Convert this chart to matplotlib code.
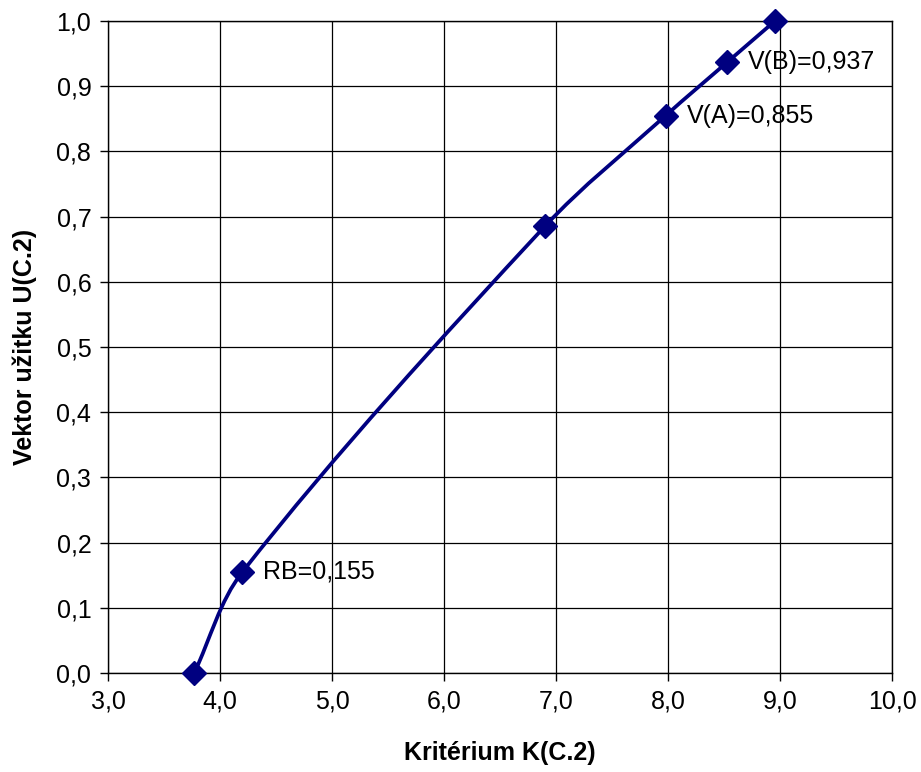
import math
import matplotlib
matplotlib.use("Agg")
import matplotlib.pyplot as plt
from matplotlib.path import Path
from matplotlib.patches import PathPatch
from matplotlib.ticker import FuncFormatter, MultipleLocator

plt.rcParams['font.family'] = ['Liberation Sans', 'DejaVu Sans']

# Data
k_values = [3.77, 4.20, 6.90, 7.98, 8.53, 8.955]
u_values = [0.0, 0.155, 0.685, 0.855, 0.937, 1.0]
labels = {1: "RB=0,155", 3: "V(A)=0,855", 4: "V(B)=0,937"}
x_label = "Kritérium K(C.2)"
y_label = "Vektor užitku U(C.2)"

color = "#000080"
FS = 18

fig = plt.figure(figsize=(9.21, 7.72), dpi=100)
ax = fig.add_axes([108/921, (772-673)/772, (892-108)/921, (673-21)/772])
ax.set_xlim(3.0, 10.0)
ax.set_ylim(0.0, 1.0)

# Smoothed line (Excel-like Bezier smoothing) through the data points,
# with tangent weights based on on-screen segment lengths
sx = (892 - 108) / 7.0
sy = (673 - 21) / 1.0
pts = list(zip(k_values, u_values))
n = len(pts)


def dist(a, b):
    return math.hypot((a[0] - b[0]) * sx, (a[1] - b[1]) * sy)


verts = [pts[0]]
codes = [Path.MOVETO]
for i in range(n - 1):
    p1 = pts[i]
    p2 = pts[i + 1]
    d12 = dist(p1, p2)
    if i > 0:
        p0 = pts[i - 1]
        w = d12 / (dist(p0, p1) + d12) / 3
        c1 = (p1[0] + (p2[0] - p0[0]) * w, p1[1] + (p2[1] - p0[1]) * w)
    else:
        c1 = (p1[0] + (p2[0] - p1[0]) / 3, p1[1] + (p2[1] - p1[1]) / 3)
    if i + 2 < n:
        p3 = pts[i + 2]
        w = d12 / (d12 + dist(p2, p3)) / 3
        c2 = (p2[0] - (p3[0] - p1[0]) * w, p2[1] - (p3[1] - p1[1]) * w)
    else:
        c2 = (p2[0] - (p2[0] - p1[0]) / 3, p2[1] - (p2[1] - p1[1]) / 3)
    verts += [c1, c2, p2]
    codes += [Path.CURVE4] * 3
patch = PathPatch(Path(verts, codes), facecolor="none", edgecolor=color,
                  linewidth=2.7, zorder=3, clip_on=False)
ax.add_patch(patch)

ax.plot(k_values, u_values, linestyle="none", marker="D", markersize=12.5,
        color=color, zorder=4, clip_on=False)

for i, txt in labels.items():
    ax.annotate(txt, (k_values[i], u_values[i]), xytext=(15, 0),
                textcoords="offset points", va="center", ha="left",
                fontsize=FS, color="black", zorder=5)

ax.xaxis.set_major_locator(MultipleLocator(1.0))
ax.yaxis.set_major_locator(MultipleLocator(0.1))
fmt = FuncFormatter(lambda v, p: f"{v:.1f}".replace(".", ","))
ax.xaxis.set_major_formatter(fmt)
ax.yaxis.set_major_formatter(fmt)
ax.tick_params(axis="both", direction="out", length=6, width=1, labelsize=FS,
               colors="black", pad=6)
ax.grid(True, color="black", linewidth=0.9)
ax.set_axisbelow(True)
for s in ax.spines.values():
    s.set_color("black")
    s.set_linewidth(1)

ax.set_xlabel(x_label, fontsize=FS, fontweight="bold", labelpad=20)
ax.set_ylabel(y_label, fontsize=FS, fontweight="bold", labelpad=14)

fig.savefig("out.png", dpi=100)
